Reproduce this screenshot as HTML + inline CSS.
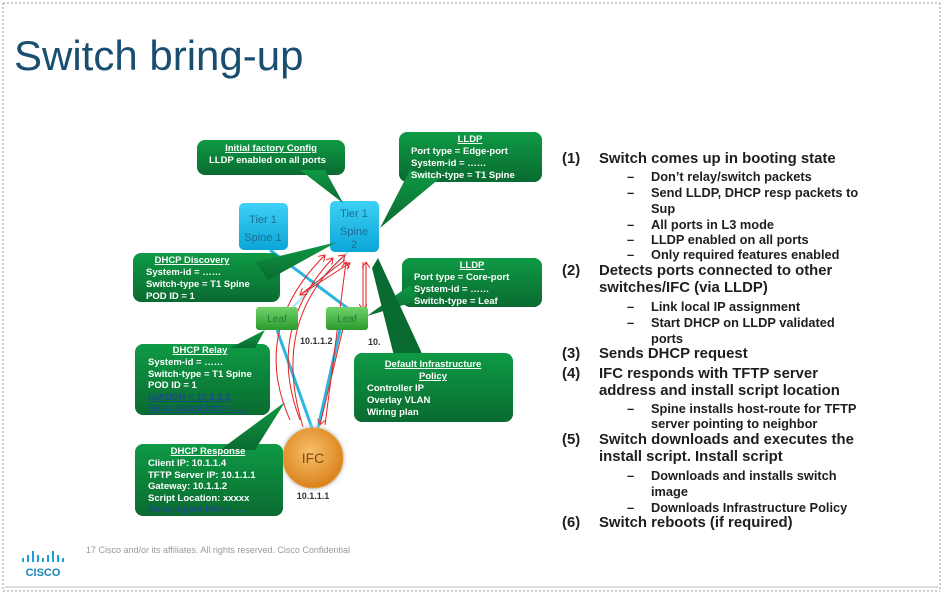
<!DOCTYPE html>
<html><head><meta charset="utf-8"><style>
body{margin:0;width:943px;height:596px;background:#fff;overflow:hidden;position:relative;font-family:"Liberation Sans",Arial,sans-serif}
.t{position:absolute;white-space:nowrap;font-weight:bold;color:#1e1e1e}
.m{font-size:14.9px}
.s{font-size:12.8px}
</style></head><body>
<svg width="943" height="596" style="position:absolute;left:0;top:0" font-family="Liberation Sans, Arial, sans-serif">
<defs>
<linearGradient id="g" x1="0" y1="0" x2="0" y2="1"><stop offset="0" stop-color="#0e9a45"/><stop offset="1" stop-color="#0a6b30"/></linearGradient>
<linearGradient id="b" x1="0" y1="0" x2="0" y2="1"><stop offset="0" stop-color="#3fd0f5"/><stop offset="1" stop-color="#0aa6d8"/></linearGradient>
<linearGradient id="lf" x1="0" y1="0" x2="0" y2="1"><stop offset="0" stop-color="#6fd36a"/><stop offset="1" stop-color="#2c9a2c"/></linearGradient>
<radialGradient id="o" cx="0.45" cy="0.4" r="0.6"><stop offset="0" stop-color="#f9c06a"/><stop offset="1" stop-color="#d9821c"/></radialGradient>
<radialGradient id="halo"><stop offset="0.7" stop-color="#5a7a90"/><stop offset="1" stop-color="#fff" stop-opacity="0"/></radialGradient>
<marker id="a" markerWidth="8" markerHeight="8" refX="6" refY="4" orient="auto"><path d="M0,0 L6,4 L0,8" fill="none" stroke="#e52222" stroke-width="1"/></marker>
</defs>
<line x1="3" y1="3" x2="940" y2="3" stroke="#999" stroke-dasharray="2,2"/>
<line x1="3" y1="591" x2="940" y2="591" stroke="#999" stroke-dasharray="2,2"/>
<line x1="3" y1="3" x2="3" y2="591" stroke="#999" stroke-dasharray="2,2"/>
<line x1="940" y1="3" x2="940" y2="591" stroke="#999" stroke-dasharray="2,2"/>
<line x1="5" y1="587" x2="938" y2="587" stroke="#ddd" stroke-width="2"/>
<text x="14" y="70" font-size="42" fill="#1a4e70">Switch bring-up</text>

<line x1="270" y1="250" x2="350" y2="310" stroke="#2bb6e2" stroke-width="3"/>
<line x1="350" y1="250" x2="290" y2="310" stroke="#a6e4f5" stroke-width="2"/>
<line x1="277" y1="330" x2="312" y2="428" stroke="#2bb6e2" stroke-width="3"/>
<line x1="340" y1="330" x2="318" y2="428" stroke="#2bb6e2" stroke-width="3"/>
<g stroke="#e52222" stroke-width="1" fill="none" marker-end="url(#a)">
<path d="M290,420 Q250,330 325,255"/>
<path d="M300,420 Q265,330 333,258"/>
<path d="M303,427 Q270,320 345,255"/>
<path d="M345,260 L300,295"/>
<path d="M300,295 L350,263"/>
<path d="M325,425 L346,262"/>
<path d="M363,262 L363,310"/>
<path d="M366,310 L366,262"/>
<path d="M345,320 L320,425"/>
</g>
<rect x="239" y="203" width="49" height="47" rx="5" fill="url(#b)"/>
<text x="263" y="223" font-size="11" fill="#1c6f96" text-anchor="middle">Tier 1</text>
<text x="263" y="241" font-size="11" fill="#1c6f96" text-anchor="middle">Spine 1</text>
<rect x="330" y="201" width="49" height="51" rx="5" fill="url(#b)"/>
<text x="354" y="217" font-size="11" fill="#1c6f96" text-anchor="middle">Tier 1</text>
<text x="354" y="235" font-size="11" fill="#1c6f96" text-anchor="middle">Spine</text>
<text x="354" y="248" font-size="11" fill="#1c6f96" text-anchor="middle">2</text>
<rect x="256" y="307" width="42" height="23" rx="3" fill="url(#lf)"/>
<text x="277" y="322" font-size="10" fill="#2a7a3a" text-anchor="middle">Leaf</text>
<rect x="326" y="307" width="42" height="23" rx="3" fill="url(#lf)"/>
<text x="347" y="322" font-size="10" fill="#2a7a3a" text-anchor="middle">Leaf</text>
<text x="300" y="344" font-size="9" font-weight="bold" fill="#333">10.1.1.2</text>
<text x="368" y="345" font-size="9" font-weight="bold" fill="#333">10.</text>
<circle cx="313" cy="458" r="36" fill="url(#halo)"/>
<circle cx="313" cy="458" r="30" fill="url(#o)" stroke="#e8a040"/>
<text x="313" y="463" font-size="14" fill="#7a4a10" text-anchor="middle">IFC</text>
<text x="313" y="499" font-size="9" font-weight="bold" fill="#333" text-anchor="middle">10.1.1.1</text>

<g fill="url(#g)">
<rect x="197" y="140" width="148" height="35" rx="8"/><polygon points="300,170 325,170 343,203"/>
<rect x="399" y="132" width="143" height="50" rx="8"/><polygon points="410,170 440,178 380,228"/>
<rect x="133" y="253" width="147" height="49" rx="8"/><polygon points="255,262 268,280 337,242"/>
<rect x="402" y="258" width="140" height="49" rx="8"/><polygon points="410,285 420,300 367,316"/>
<rect x="135" y="344" width="135" height="71" rx="8"/>
<polygon points="378,258 372,268 395,360 425,360" fill="#0a6b30"/>
<rect x="354" y="353" width="159" height="69" rx="8"/>
<rect x="135" y="444" width="148" height="72" rx="8"/><polygon points="220,450 255,450 285,402"/>
<polygon points="230,348 255,348 265,330"/>
</g>
<g fill="#fff" font-size="9.5" font-weight="bold">
<text x="271" y="151" text-anchor="middle" text-decoration="underline">Initial factory Config</text>
<text x="209" y="163">LLDP enabled on all ports</text>
<text x="470" y="142" text-anchor="middle" text-decoration="underline">LLDP</text>
<text x="411" y="154">Port type = Edge-port</text>
<text x="411" y="166">System-id = ……</text>
<text x="411" y="178">Switch-type = T1 Spine</text>
<text x="192" y="263" text-anchor="middle" text-decoration="underline">DHCP Discovery</text>
<text x="146" y="275">System-id = ……</text>
<text x="146" y="287">Switch-type = T1 Spine</text>
<text x="146" y="299">POD ID  = 1</text>
<text x="472" y="268" text-anchor="middle" text-decoration="underline">LLDP</text>
<text x="414" y="280">Port type = Core-port</text>
<text x="414" y="292">System-id = ……</text>
<text x="414" y="304">Switch-type = Leaf</text>
<text x="200" y="353" text-anchor="middle" text-decoration="underline">DHCP Relay</text>
<text x="148" y="365">System-id = ……</text>
<text x="148" y="377">Switch-type = T1 Spine</text>
<text x="148" y="388">POD ID = 1</text>
<text x="148" y="400" fill="#1a4b8a" text-decoration="underline">GIADDR = 10.1.1.2</text>
<text x="148" y="411" fill="#1a4b8a" text-decoration="underline">Relay Agent Info = ….</text>
<text x="433" y="367" text-anchor="middle" text-decoration="underline">Default  Infrastructure</text>
<text x="433" y="379" text-anchor="middle" text-decoration="underline">Policy</text>
<text x="367" y="391">Controller IP</text>
<text x="367" y="403">Overlay VLAN</text>
<text x="367" y="415">Wiring plan</text>
<text x="208" y="454" text-anchor="middle" text-decoration="underline">DHCP Response</text>
<text x="148" y="466">Client IP: 10.1.1.4</text>
<text x="148" y="478">TFTP Server IP: 10.1.1.1</text>
<text x="148" y="489">Gateway: 10.1.1.2</text>
<text x="148" y="501">Script  Location: xxxxx</text>
<text x="148" y="512" fill="#1a4b8a">Relay Agent Info = ….</text>
</g>
<g fill="#1ba0d7">
<rect x="22" y="558" width="2" height="4"/><rect x="27" y="555" width="2" height="7"/><rect x="32" y="551" width="2" height="11"/><rect x="37" y="555" width="2" height="7"/><rect x="42" y="558" width="2" height="4"/><rect x="47" y="555" width="2" height="7"/><rect x="52" y="551" width="2" height="11"/><rect x="57" y="555" width="2" height="7"/><rect x="62" y="558" width="2" height="4"/>
</g>
<text x="43" y="576" font-size="11" font-weight="bold" fill="#1a85b5" text-anchor="middle">CISCO</text>
<text x="86" y="553" font-size="9" fill="#999">17  Cisco and/or its affiliates. All rights reserved.   Cisco Confidential</text>
</svg>

<div class="t m" style="left:562px;top:151px">(1)</div><div class="t m" style="left:599px;top:151px">Switch comes up in booting state</div>
<div class="t s" style="left:627px;top:169px">–</div><div class="t s" style="left:651px;top:169px">Don’t relay/switch packets</div>
<div class="t s" style="left:627px;top:185px">–</div><div class="t s" style="left:651px;top:185px">Send LLDP, DHCP resp packets to</div>
<div class="t s" style="left:651px;top:201px">Sup</div>
<div class="t s" style="left:627px;top:217px">–</div><div class="t s" style="left:651px;top:217px">All ports in L3 mode</div>
<div class="t s" style="left:627px;top:232px">–</div><div class="t s" style="left:651px;top:232px">LLDP enabled on all ports</div>
<div class="t s" style="left:627px;top:247px">–</div><div class="t s" style="left:651px;top:247px">Only required features enabled</div>
<div class="t m" style="left:562px;top:263px">(2)</div><div class="t m" style="left:599px;top:263px">Detects ports connected to other</div>
<div class="t m" style="left:599px;top:280px">switches/IFC (via LLDP)</div>
<div class="t s" style="left:627px;top:299px">–</div><div class="t s" style="left:651px;top:299px">Link local IP assignment</div>
<div class="t s" style="left:627px;top:315px">–</div><div class="t s" style="left:651px;top:315px">Start DHCP on LLDP validated</div>
<div class="t s" style="left:651px;top:331px">ports</div>
<div class="t m" style="left:562px;top:346px">(3)</div><div class="t m" style="left:599px;top:346px">Sends DHCP request</div>
<div class="t m" style="left:562px;top:366px">(4)</div><div class="t m" style="left:599px;top:366px">IFC responds with TFTP server</div>
<div class="t m" style="left:599px;top:383px">address and install script location</div>
<div class="t s" style="left:627px;top:401px">–</div><div class="t s" style="left:651px;top:401px">Spine installs host-route for TFTP</div>
<div class="t s" style="left:651px;top:416px">server pointing to neighbor</div>
<div class="t m" style="left:562px;top:432px">(5)</div><div class="t m" style="left:599px;top:432px">Switch downloads and executes the</div>
<div class="t m" style="left:599px;top:449px">install script. Install script</div>
<div class="t s" style="left:627px;top:468px">–</div><div class="t s" style="left:651px;top:468px">Downloads and installs switch</div>
<div class="t s" style="left:651px;top:484px">image</div>
<div class="t s" style="left:627px;top:500px">–</div><div class="t s" style="left:651px;top:500px">Downloads Infrastructure Policy</div>
<div class="t m" style="left:562px;top:515px">(6)</div><div class="t m" style="left:599px;top:515px">Switch reboots (if required)</div>
</body></html>
